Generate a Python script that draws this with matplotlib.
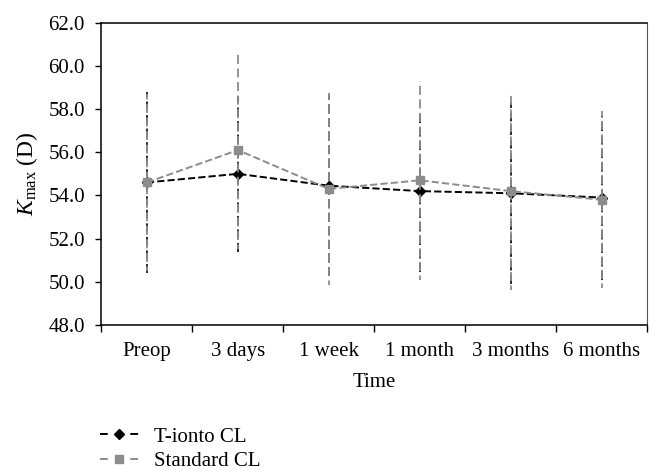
import numpy as np
import matplotlib
matplotlib.use("Agg")
import matplotlib.pyplot as plt
from matplotlib.lines import Line2D
from matplotlib.ticker import FormatStrFormatter

plt.rcParams['font.family'] = ['Liberation Serif', 'DejaVu Serif']
plt.rcParams['mathtext.fontset'] = 'custom'
plt.rcParams['mathtext.rm'] = 'Liberation Serif'
plt.rcParams['mathtext.it'] = 'Liberation Serif:italic'

# data
times = ["Preop", "3 days", "1 week", "1 month", "3 months", "6 months"]
tionto_mean = [54.6, 55.0, 54.45, 54.2, 54.1, 53.9]
tionto_sd = [4.2, 3.6, 4.2, 3.75, 4.2, 3.8]
standard_mean = [54.6, 56.1, 54.3, 54.7, 54.2, 53.8]
standard_sd = [4.1, 4.6, 4.45, 4.6, 4.6, 4.1]

black = "black"
gray = "#8c8c8c"
x = np.arange(len(times))

fig = plt.figure(figsize=(6.62, 4.73), dpi=100)
ax = fig.add_axes([0.1533, 0.313, 0.824, 0.639])

# T-ionto CL (black diamonds)
eb1 = ax.errorbar(x, tionto_mean, yerr=tionto_sd, color=black, ecolor="#1a1a1a",
                  linestyle="--", linewidth=1.4, elinewidth=1.3,
                  marker="D", markersize=5, zorder=3)
eb1[2][0].set_linestyle((0, (5, 2.5)))

# Standard CL (gray squares), drawn on top
eb2 = ax.errorbar(x, standard_mean, yerr=standard_sd, color=gray, ecolor=gray,
                  linestyle="--", linewidth=1.4, elinewidth=1.3,
                  marker="s", markersize=5.5, zorder=4)
eb2[2][0].set_linestyle((2.5, (5, 2.5)))

ax.set_xlim(-0.5, len(times) - 0.5)
ax.set_ylim(48, 62)
ax.set_yticks(np.arange(48, 62.1, 2))
ax.yaxis.set_major_formatter(FormatStrFormatter('%.1f'))

ax.set_xticks(x)
ax.set_xticklabels(times)
ax.set_xticks(np.arange(-0.5, len(times), 1), minor=True)
ax.tick_params(axis='x', which='major', length=0, pad=12, labelsize=15)
ax.tick_params(axis='x', which='minor', length=5, width=1, direction='out')
ax.tick_params(axis='y', length=4, width=1, direction='out', labelsize=15, pad=8)

for side in ["left", "bottom", "top"]:
    ax.spines[side].set_color("black")
    ax.spines[side].set_linewidth(1.1)
ax.spines["right"].set_color("#555555")
ax.spines["right"].set_linewidth(0.8)

ax.set_xlabel("Time", fontsize=15, labelpad=9)
ax.set_ylabel(r"$K_{\mathrm{max}}$ (D)", fontsize=17, labelpad=6)

# legend handles: dash - marker - dash
handles = [
    Line2D([], [], color=black, linewidth=1.4, linestyle=(0, (4, 3.8)),
           marker="D", markersize=5),
    Line2D([], [], color=gray, linewidth=1.4, linestyle=(0, (4, 3.8)),
           marker="s", markersize=5.5),
]
labels = ["T-ionto CL", "Standard CL"]
fig.legend(handles, labels, loc="upper left", bbox_to_anchor=(0.151, 0.097),
           frameon=False, fontsize=15, handlelength=1.85, handletextpad=0.75,
           labelspacing=0.25, borderpad=0, borderaxespad=0)

fig.savefig("out.png", dpi=100)
